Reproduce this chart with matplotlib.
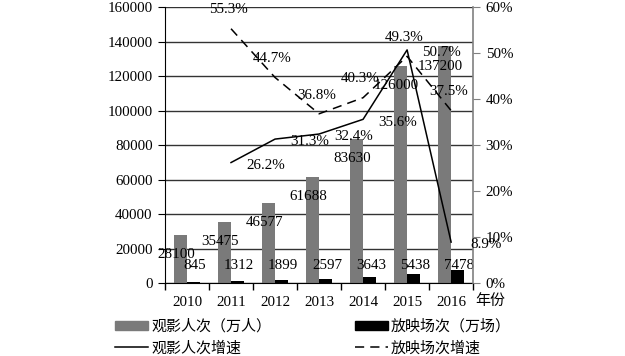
import matplotlib
matplotlib.use('Agg')
import matplotlib.pyplot as plt
from matplotlib.patches import Patch
from matplotlib.lines import Line2D
import numpy as np

plt.rcParams['font.family'] = ['Liberation Serif', 'Noto Sans CJK SC']
plt.rcParams['font.size'] = 10.8

years = ['2010', '2011', '2012', '2013', '2014', '2015', '2016']
audience = [28100, 35475, 46577, 61688, 83630, 126000, 137200]   # 观影人次（万人）
screenings = [845, 1312, 1899, 2597, 3643, 5438, 7478]           # 放映场次（万场）
audience_growth = [None, 26.2, 31.3, 32.4, 35.6, 50.7, 8.9]      # 观影人次增速 %
screen_growth = [None, 55.3, 44.7, 36.8, 40.3, 49.3, 37.5]       # 放映场次增速 %

x = np.arange(len(years))
w = 0.3

fig = plt.figure(figsize=(6.25, 3.56), dpi=100)
ax = fig.add_axes([0.264, 0.205, 0.493, 0.775])

ax.bar(x - w / 2, audience, w, color='#7a7a7a', zorder=2)
ax.bar(x + w / 2, screenings, w, color='black', zorder=2)

ax.set_xlim(-0.5, len(years) - 0.5)
ax.set_ylim(0, 160000)
ax.set_yticks(np.arange(0, 160001, 20000))
ax.yaxis.grid(True, color='#333333', lw=1.0, zorder=0)
ax.set_xticks(x)
ax.set_xticklabels(years)
ax.set_xticks(np.arange(-0.5, len(years), 1), minor=True)
ax.tick_params(axis='x', which='major', length=0, pad=9)
ax.tick_params(axis='x', which='minor', length=5, direction='out', width=1)
ax.tick_params(axis='y', length=5, direction='out', pad=4)
for s in ['top', 'right']:
    ax.spines[s].set_visible(False)
ax.spines['left'].set_color('black')
ax.spines['bottom'].set_color('black')

for xi, v in zip(x, audience):
    ax.annotate(str(v), (xi - w / 2, v), xytext=(-3, -14.5), textcoords='offset points',
                ha='center', va='center', zorder=5)
for xi, v in zip(x, screenings):
    ax.text(xi + w / 2 + 0.03, 10000, str(v), ha='center', va='center', zorder=5)

ax.annotate('年份', (1.0, 0), xycoords='axes fraction', xytext=(12, -13),
            textcoords='offset points', ha='center', va='center')

ax2 = ax.twinx()
ax2.set_ylim(0, 60)
ax2.set_yticks(np.arange(0, 61, 10))
ax2.set_yticklabels([f'{t}%' for t in range(0, 61, 10)])
ax2.tick_params(axis='y', length=5, direction='out', pad=4, color='#808080')
for s in ['top', 'left', 'bottom']:
    ax2.spines[s].set_visible(False)
ax2.spines['right'].set_color('#808080')
ax2.spines['right'].set_linewidth(1.2)

xs = x[1:]
ag = audience_growth[1:]
sg = screen_growth[1:]
ax2.plot(xs, ag, color='black', lw=1.1, zorder=4)
ax2.plot(xs, sg, color='black', lw=1.1, dashes=(6, 4), zorder=4)
for xi, v in zip(xs, ag):
    ax2.annotate(f'{v}%', (xi, v), xytext=(25, -2), textcoords='offset points',
                 ha='center', va='center')
for xi, v in zip(xs, sg):
    ax2.annotate(f'{v}%', (xi, v), xytext=(-2, 13.5), textcoords='offset points',
                 ha='center', va='center')

handles = [Patch(color='#7a7a7a'), Line2D([], [], color='black', lw=1.1),
           Patch(color='black'), Line2D([], [], color='black', lw=1.1, dashes=(6, 4))]
labels = ['观影人次（万人）', '观影人次增速', '放映场次（万场）', '放映场次增速']
fig.legend(handles, labels, ncol=2, loc='lower left', bbox_to_anchor=(0.183, 0.0),
           frameon=False, handlelength=2.2, handletextpad=0.2, columnspacing=5.6,
           labelspacing=0.45, handleheight=0.55, borderpad=0.05, borderaxespad=0)

fig.savefig('out.png', dpi=100)
